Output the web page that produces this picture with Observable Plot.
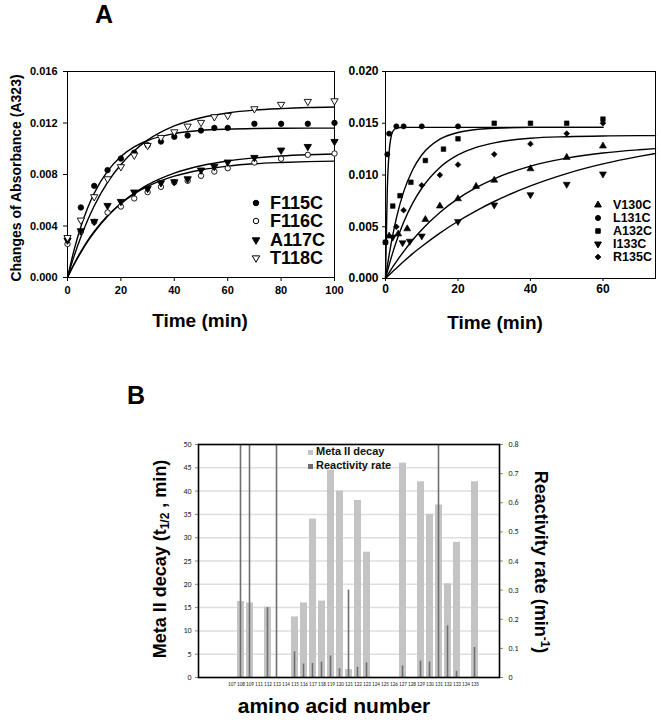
<!DOCTYPE html>
<html><head><meta charset="utf-8">
<script src="https://cdn.jsdelivr.net/npm/d3@7"></script>
<script src="https://cdn.jsdelivr.net/npm/@observablehq/plot@0.6"></script>
<style>
body{margin:0;background:#fff;font-family:"Liberation Sans",Arial,sans-serif;}
#root{position:relative;width:661px;height:725px;overflow:hidden;background:#fff;}
.abs{position:absolute;}
.lbl{position:absolute;font-weight:bold;color:#000;white-space:nowrap;line-height:1;}
</style></head><body><div id="root"></div>
<script>
// ---------- Panel A (left): time course, F115C–T118C ----------
const timesA = [0,5,10,15,20,25,30,35,40,45,50,55,60,70,80,90,100];
const F115C = [0.0030,0.00544,0.00712,0.00834,0.00924,0.0097,0.01028,0.01056,0.01093,0.01103,0.01142,0.01162,0.01162,0.01194,0.01194,0.01194,0.01201];
const F116C = [0.0026,0.00355,0.00432,0.00505,0.00551,0.00614,0.00663,0.00704,0.0074,0.00751,0.0079,0.00823,0.00849,0.00893,0.00922,0.00953,0.00963];
const A117C = [0.0029,0.00362,0.00435,0.00559,0.0059,0.00663,0.00691,0.00735,0.00743,0.00766,0.00834,0.00862,0.00896,0.00932,0.00989,0.01017,0.01056];
const T118C = [0.0031,0.00445,0.00627,0.00766,0.0086,0.0095,0.01025,0.01087,0.01131,0.01175,0.01204,0.01248,0.01258,0.0131,0.01344,0.01367,0.01372];
// fitted curves
const fitTimesA = [0,2.5,5,7.5,10,15,20,25,30,40,50,60,70,80,90,100];
const F115Cfit = [0,0.00217,0.00394,0.00537,0.00654,0.00826,0.0094,0.01014,0.01064,0.01118,0.01142,0.01152,0.01157,0.01159,0.0116,0.0116];
const F116Cfit = [0,0.00107,0.00201,0.00285,0.00358,0.0048,0.00575,0.00649,0.00707,0.00787,0.00835,0.00865,0.00883,0.00893,0.009,0.00904];
const A117Cfit = [0,0.00103,0.00194,0.00278,0.00351,0.00476,0.00575,0.00655,0.00719,0.0081,0.00868,0.00905,0.00929,0.00944,0.00953,0.00959];
const T118Cfit = [0,0.00168,0.00315,0.00443,0.00555,0.00738,0.00878,0.00985,0.01067,0.01177,0.01241,0.01278,0.013,0.01312,0.0132,0.01324];
const yTicksAL = [0,0.004,0.008,0.012,0.016];
const xTicksAL = [0,20,40,60,80,100];

// ---------- Panel A (right): V130C–R135C ----------
const V130Ct = [1,3.5,6,11,15,20,25,30,40,50,60];
const V130C  = [0.0041,0.0043,0.0048,0.0057,0.007,0.0077,0.0089,0.0095,0.0106,0.0117,0.0128];
const L131Ct = [0,0.5,1,3,5,10,20];
const L131C  = [0.0035,0.012,0.014,0.0147,0.0147,0.0147,0.0147];
const A132Ct = [0,2,4,7,11,16,20,30,40,50,60];
const A132C  = [0.0035,0.007,0.008,0.0093,0.0114,0.0125,0.0135,0.015,0.015,0.015,0.0154];
const I133Ct = [2,4.7,6.7,10,20,30,40,50,60];
const I133C  = [0.004,0.00345,0.0036,0.0041,0.0055,0.0071,0.0081,0.0091,0.0101];
const R135Ct = [3,5,10,15,20,30,40,50,60];
const R135C  = [0.005,0.0066,0.009,0.01,0.011,0.012,0.013,0.014,0.015];
const fitTimesB = [0,0.5,1,1.5,2,3,5,7.5,10,15,20,25,30,40,50,60,70,74.5];
const L131Cfit = [0,0.00866,0.0122,0.01362,0.0142,0.01453,0.0146,0.0146,0.0146,0.0146,0.0146,0.0146,0.0146,0.0146,0.0146,0.0146,null,null];
const A132Cfit = [0,0.0012,0.00228,0.00328,0.0042,0.00584,0.00837,0.01051,0.01193,0.01346,0.01411,0.0144,0.01451,0.0146,0.0146,0.0146,null,null];
const R135Cfit = [0,0.00067,0.00131,0.00192,0.0025,0.00357,0.00543,0.00728,0.00872,0.01073,0.01194,0.01267,0.01311,0.01355,0.0137,0.01377,0.0138,0.0138];
const V130Cfit = [0,0.00029,0.00057,0.00084,0.00112,0.00164,0.0026,0.00372,0.00471,0.00638,0.00771,0.00877,0.00963,0.01086,0.01163,0.01213,0.01244,0.01255];
const I133Cfit = [0,0.00017,0.00034,0.00051,0.00068,0.001,0.00164,0.0024,0.00309,0.00438,0.00553,0.00654,0.00744,0.00895,0.01014,0.01107,0.0118,0.01208];
const yTicksAR = [0,0.005,0.01,0.015,0.02];
const xTicksAR = [0,20,40,60];

// ---------- Panel B ----------
const residueLabels = ["107","108","109","111","112","113","114","115","116","117","118","119","120","121","122","123","124","125","126","127","128","129","130","131","132","133","134","135"];
const metaResidues = ["108","109","112","115","116","117","118","119","120","121","122","123","127","129","130","131","132","133","135"];
const metaIIdecay  = [16.3,16.0,15.1,13.0,16.0,34.0,16.4,44.5,40.0,1.7,38.0,26.9,46.0,42.0,35.0,37.0,20.1,29.0,42.0];
const rateResidues = ["108","109","112","113","115","116","117","118","119","120","121","122","123","127","129","130","131","132","133","135"];
const reactivityRate = [1.0,1.0,0.24,1.0,0.088,0.046,0.048,0.053,0.074,0.030,0.30,0.035,0.050,0.040,0.056,0.053,1.0,0.177,0.021,0.103];
const leftTicksB = [0,5,10,15,20,25,30,35,40,45,50];
const rightTicksB = [0,0.1,0.2,0.3,0.4,0.5,0.6,0.7,0.8];

// ---------- helpers ----------
const FONT = "Liberation Sans, Arial, Helvetica, sans-serif";
const root = document.getElementById("root");
const sq3 = Math.sqrt(3);
const triDown = {draw(ctx, size){const y=-Math.sqrt(size/(sq3*3)); ctx.moveTo(0,-y*2); ctx.lineTo(-sq3*y,y); ctx.lineTo(sq3*y,y); ctx.closePath();}};
const zipRows = (ts, vs) => ts.map((t,i)=>({t, v: vs[i]})).filter(d=>d.v!=null);
function place(node, left, top){const d=document.createElement("div");d.className="abs";d.style.left=left+"px";d.style.top=top+"px";d.appendChild(node);root.appendChild(d);return d;}
function text(html, css){const d=document.createElement("div");d.className="lbl";d.innerHTML=html;Object.assign(d.style,css);root.appendChild(d);return d;}
function symbolPath(sym, size){return d3.symbol(sym === "circle" ? d3.symbolCircle : sym === "square" ? d3.symbolSquare : sym === "diamond2" ? d3.symbolDiamond2 : sym === "triangle" ? d3.symbolTriangle : sym, size)();}
function legend(items, y, rowH, fs, markerX, textX){
  items.forEach((it,i)=>{
    const cy = y + i*rowH;
    const svg = d3.create("svg").attr("width",14).attr("height",14).style("position","absolute").style("left",(markerX-7)+"px").style("top",(cy-7)+"px");
    svg.append("path").attr("transform","translate(7,7)").attr("d",symbolPath(it.symbol, it.size)).attr("fill",it.fill).attr("stroke","black").attr("stroke-width",1);
    root.appendChild(svg.node());
    text(it.name,{left:textX+"px",top:(cy-fs*0.5)+"px",fontSize:fs+"px",height:fs+"px"});
  });
}

// ---------- Panel A left ----------
const seriesL = [
  {name:"F115C", t:timesA, v:F115C, ft:fitTimesA, fv:F115Cfit, symbol:"circle", fill:"black"},
  {name:"F116C", t:timesA, v:F116C, ft:fitTimesA, fv:F116Cfit, symbol:"circle", fill:"white"},
  {name:"A117C", t:timesA, v:A117C, ft:fitTimesA, fv:A117Cfit, symbol:triDown, fill:"black"},
  {name:"T118C", t:timesA, v:T118C, ft:fitTimesA, fv:T118Cfit, symbol:triDown, fill:"white"}
];
const plotAL = Plot.plot({
  width:340, height:335, marginLeft:67, marginRight:6, marginTop:71, marginBottom:58,
  style:{fontFamily:FONT, fontSize:"11px", fontWeight:"bold", color:"black", background:"transparent", overflow:"visible"},
  x:{domain:[0,100]}, y:{domain:[0,0.016]},
  marks:[
    Plot.frame({stroke:"black", strokeWidth:1}),
    Plot.axisX(xTicksAL,{tickSize:4, tickPadding:5, label:null, fontSize:11, fontWeight:"bold"}),
    Plot.axisY(yTicksAL,{tickSize:4, tickPadding:6, tickFormat:".3f", label:null, fontSize:11, fontWeight:"bold"}),
    ...seriesL.map(s=>Plot.line(zipRows(s.ft,s.fv),{x:"t",y:"v",curve:"monotone-x",stroke:"black",strokeWidth:1.4})),
    ...seriesL.map(s=>Plot.dot(zipRows(s.t,s.v),{x:"t",y:"v",symbol:s.symbol,r:2.7,fill:s.fill,stroke:"black",strokeWidth:0.9}))
  ]
});
place(plotAL,0,0);

// ---------- Panel A right ----------
const seriesR = [
  {name:"V130C", t:V130Ct, v:V130C, fv:V130Cfit, symbol:"triangle", fill:"black"},
  {name:"L131C", t:L131Ct, v:L131C, fv:L131Cfit, symbol:"circle", fill:"black"},
  {name:"A132C", t:A132Ct, v:A132C, fv:A132Cfit, symbol:"square", fill:"black"},
  {name:"I133C", t:I133Ct, v:I133C, fv:I133Cfit, symbol:triDown, fill:"black"},
  {name:"R135C", t:R135Ct, v:R135C, fv:R135Cfit, symbol:"diamond2", fill:"black"}
];
const plotAR = Plot.plot({
  width:326, height:335, marginLeft:50, marginRight:6, marginTop:71, marginBottom:57,
  style:{fontFamily:FONT, fontSize:"12px", fontWeight:"bold", color:"black", background:"transparent", overflow:"visible"},
  x:{domain:[0,74.5]}, y:{domain:[0,0.02]},
  marks:[
    Plot.frame({stroke:"black", strokeWidth:1}),
    Plot.axisX(xTicksAR,{tickSize:3, tickPadding:3, label:null, fontSize:12, fontWeight:"bold"}),
    Plot.axisY(yTicksAR,{tickSize:3, tickPadding:4, tickFormat:".3f", label:null, fontSize:12, fontWeight:"bold"}),
    ...seriesR.map(s=>Plot.line(zipRows(fitTimesB,s.fv),{x:"t",y:"v",curve:"monotone-x",stroke:"black",strokeWidth:1.4})),
    ...seriesR.map(s=>Plot.dot(zipRows(s.t,s.v),{x:"t",y:"v",symbol:s.symbol,r:2.6,fill:s.fill,stroke:"black",strokeWidth:0.6}))
  ]
});
place(plotAR,335,0);

// ---------- Panel B ----------
const xDomainB = ["_pad1","_pad2",...residueLabels,"_pad3"];
const k = 50/0.8;
const metaRows = metaResidues.map((r,i)=>({res:r, v:metaIIdecay[i]}));
const rateRows = rateResidues.map((r,i)=>({res:r, r:reactivityRate[i]}));
const plotB = Plot.plot({
  width:661, height:345, marginLeft:198, marginRight:162, marginTop:64, marginBottom:48,
  style:{fontFamily:"Carlito, Liberation Sans, Arial, sans-serif", fontSize:"8px", color:"#222", background:"transparent", overflow:"visible"},
  x:{type:"band", domain:xDomainB, paddingInner:0.17, paddingOuter:0, axis:null},
  y:{domain:[0,50], axis:null},
  marks:[
    Plot.gridY(leftTicksB,{stroke:"#dedede", strokeOpacity:1, strokeWidth:1.5}),
    Plot.barY(metaRows,{x:"res", y:"v", fill:"#c4c4c4"}),
    Plot.barY(rateRows,{x:"res", y:d=>d.r*k, fill:"#6f6f6f", insetLeft:2.7, insetRight:2.7, clip:true}),
    Plot.axisY(leftTicksB,{anchor:"left", tickSize:3, tickPadding:4, label:null, fontSize:8, stroke:"#888"}),
    Plot.axisY(rightTicksB.map(v=>v*k),{anchor:"right", tickSize:3, tickPadding:6, label:null, fontSize:8, stroke:"#888", tickFormat:v=>{const r=Math.round(v/k*10)/10; return r===0?"0":r.toFixed(1);}}),
    Plot.axisX(residueLabels,{anchor:"bottom", tickSize:0, tickPadding:5, label:null, fontSize:5.2}),
    Plot.frame({stroke:"black", strokeWidth:1.6})
  ]
});
place(plotB,0,380);

// ---------- Texts ----------
text("A",{left:"95px",top:"2px",fontSize:"25px"});
text("B",{left:"127px",top:"383px",fontSize:"25px"});
text("Changes of Absorbance (A323)",{left:"16px",top:"178px",fontSize:"14px",transform:"translate(-50%,-50%) rotate(-90deg)"});
text("Time (min)",{left:"200px",top:"320px",fontSize:"19px",transform:"translate(-50%,-50%)"});
text("Time (min)",{left:"495px",top:"322px",fontSize:"19px",transform:"translate(-50%,-50%)"});
text("Meta II decay (t<sub style='font-size:12px;vertical-align:-3px'>1/2</sub> , min)",{left:"161px",top:"559px",fontSize:"18px",transform:"translate(-50%,-50%) rotate(-90deg)"});
text("Reactivity rate (min<sup style='font-size:12px;vertical-align:6px'>-1</sup>)",{left:"541px",top:"562px",fontSize:"18px",transform:"translate(-50%,-50%) rotate(90deg)"});
text("amino acid number",{left:"334px",top:"705px",fontSize:"21px",transform:"translate(-50%,-50%)"});

legend(seriesL.map(s=>({name:s.name, symbol:s.symbol, fill:s.fill, size:24})), 203, 18.3, 18, 256, 270);
legend(seriesR.map(s=>({name:s.name, symbol:s.symbol, fill:s.fill, size:20})), 205, 13, 12.5, 598, 613);

// Panel B legend
[["Meta II decay","#c4c4c4",452],["Reactivity rate","#6f6f6f",466]].forEach(([name,col,cy])=>{
  const sw=document.createElement("div");sw.style.cssText=`position:absolute;left:308px;top:${cy-2.5}px;width:5px;height:5px;background:${col}`;root.appendChild(sw);
  text(name,{left:"316px",top:(cy-6)+"px",fontSize:"11px",color:"#111"});
});
</script></body></html>
